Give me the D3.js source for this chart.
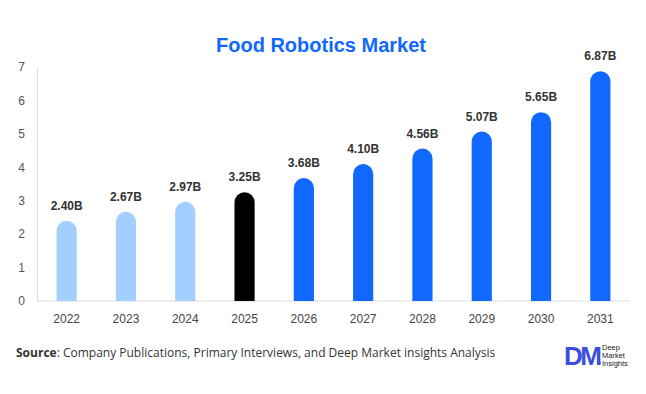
<!DOCTYPE html>
<html><head><meta charset="utf-8">
<script src="https://cdn.jsdelivr.net/npm/d3@7"></script>
<style>body{margin:0;background:#fff}svg{display:block}</style>
</head><body>
<script>
const years = ["2022","2023","2024","2025","2026","2027","2028","2029","2030","2031"];
const values = [2.40,2.67,2.97,3.25,3.68,4.10,4.56,5.07,5.65,6.87];
const labels = ["2.40B","2.67B","2.97B","3.25B","3.68B","4.10B","4.56B","5.07B","5.65B","6.87B"];
const yTicks = [0,1,2,3,4,5,6,7];
const colors = ["#a3cfff","#a3cfff","#a3cfff","#000000","#1068ff","#1068ff","#1068ff","#1068ff","#1068ff","#1068ff"];

const W=646,H=394;
const svg=d3.select("body").append("svg").attr("width",W).attr("height",H);
const x=d3.scaleBand().domain(years).range([37,630]).paddingInner(0.66).paddingOuter(0.33);
const y=d3.scaleLinear().domain([0,7]).range([301,67]);

svg.append("text").attr("x",321).attr("y",52).attr("text-anchor","middle")
  .attr("font-family","Liberation Sans, Arial, sans-serif").attr("font-weight","bold")
  .attr("font-size",20).attr("fill","#1068ff").text("Food Robotics Market");

// y axis
const ya=svg.append("g").attr("transform","translate(37,0)").call(d3.axisLeft(y).tickValues(yTicks).tickFormat(d3.format("d")).tickSize(0).tickPadding(12));
ya.select(".domain").attr("stroke","#ddd");
ya.selectAll("text").attr("font-family","Liberation Sans, Arial, sans-serif").attr("font-size",12).attr("fill","#555");
// x axis
const xa=svg.append("g").attr("transform","translate(0,301)").call(d3.axisBottom(x).tickSize(0).tickPadding(13));
xa.select(".domain").attr("stroke","#ddd").attr("d","M37,0H630");
xa.selectAll("text").attr("font-family","Liberation Sans, Arial, sans-serif").attr("font-size",12).attr("fill","#444");

const bw=x.bandwidth(), r=bw/2;
svg.append("g").selectAll("path").data(years).join("path")
  .attr("fill",(d,i)=>colors[i])
  .attr("d",(d,i)=>{
    const x0=x(d), x1=x0+bw, top=y(values[i]), b=y(0);
    return `M${x0},${b}V${top+r}A${r},${r} 0 0 1 ${x1},${top+r}V${b}Z`;
  });

svg.append("g").selectAll("text").data(years).join("text")
  .attr("x",d=>x(d)+bw/2).attr("y",(d,i)=>y(values[i])-11)
  .attr("text-anchor","middle").attr("font-family","Liberation Sans, Arial, sans-serif")
  .attr("font-weight","bold").attr("font-size",12).attr("fill","#333")
  .text((d,i)=>labels[i]);

const src=svg.append("text").attr("x",16).attr("y",357).attr("font-family","Open Sans, Noto Sans, sans-serif").attr("font-size",12).attr("fill","#333");
src.append("tspan").attr("font-weight","bold").text("Source");
src.append("tspan").text(": Company Publications, Primary Interviews, and Deep Market insights Analysis");

// logo
const lg=svg.append("g").attr("transform","translate(564,342)");
lg.append("text").attr("x",0).attr("y",23).attr("font-family","Liberation Sans, Arial, sans-serif").attr("font-weight","bold")
  .attr("font-size",26).attr("fill","#3a4fe0").attr("letter-spacing",-2.5).text("DM");
lg.append("circle").attr("cx",35).attr("cy",21).attr("r",1.8).attr("fill","#3a4fe0");
["Deep","Market","Insights"].forEach((t,i)=>lg.append("text").attr("x",38).attr("y",8+i*8)
  .attr("font-family","Liberation Sans, Arial, sans-serif").attr("font-size",7.5).attr("fill","#222").text(t));
</script>
</body></html>
